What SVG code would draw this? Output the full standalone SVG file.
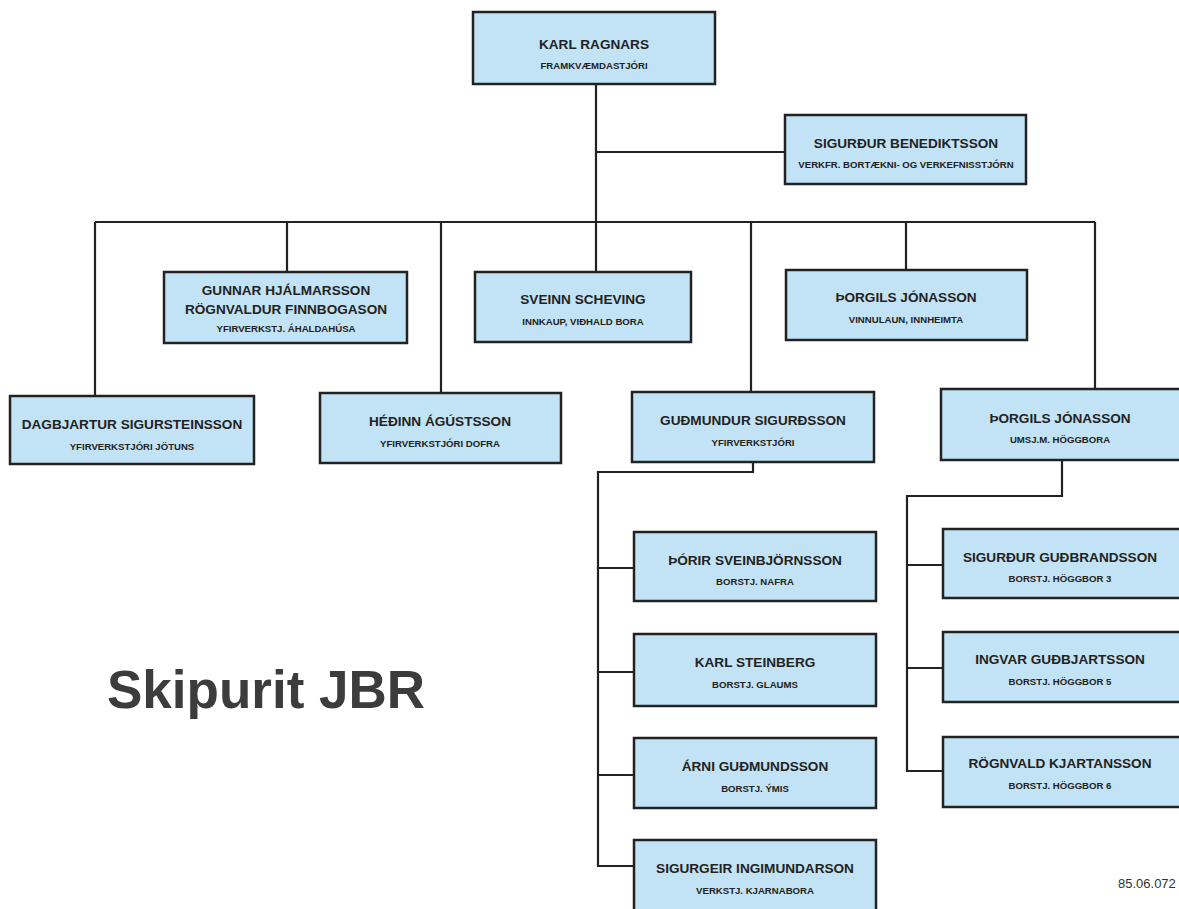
<svg xmlns="http://www.w3.org/2000/svg" width="1179" height="909" viewBox="0 0 1179 909">
<style>
.box{fill:#c2e3f5;stroke:#222;stroke-width:2.5}
.nm{font-family:"Liberation Sans",Arial,sans-serif;font-weight:bold;font-size:13.6px;fill:#222;text-anchor:middle}
.sb{font-family:"Liberation Sans",Arial,sans-serif;font-weight:bold;font-size:9.6px;fill:#222;text-anchor:middle}
.ln{fill:none;stroke:#222;stroke-width:2.2}
</style>
<rect width="1179" height="909" fill="#fff"/>
<g id="connectors">
<path class="ln" d="M596,84V222M596,152H785M95,222H1095M95,222V396M287,222V272M441,222V393M596,222V272M751,222V392M906,222V270M1095,222V389"/>
<path class="ln" d="M753,462V472H598V866H634M598,568H634M598,672H634M598,775H634"/>
<path class="ln" d="M1062,460V496H907V771H943M907,565H943M907,668H943"/>
</g>
<g id="n-karl-ragnars"><rect class="box" x="473" y="12" width="242" height="72"/><text class="nm" x="594" y="49">KARL RAGNARS</text><text class="sb" x="594" y="69">FRAMKVÆMDASTJÓRI</text></g>
<g id="n-sigurdur-benediktsson"><rect class="box" x="785" y="115" width="241" height="69"/><text class="nm" x="906" y="148">SIGURÐUR BENEDIKTSSON</text><text class="sb" x="906" y="168">VERKFR. BORTÆKNI- OG VERKEFNISSTJÓRN</text></g>
<g id="n-gunnar"><rect class="box" x="164" y="272" width="243" height="71"/><text class="nm" x="286" y="295">GUNNAR HJÁLMARSSON</text><text class="nm" x="286" y="314">RÖGNVALDUR FINNBOGASON</text><text class="sb" x="286" y="332">YFIRVERKSTJ. ÁHALDAHÚSA</text></g>
<g id="n-sveinn"><rect class="box" x="475" y="272" width="216" height="70"/><text class="nm" x="583" y="304">SVEINN SCHEVING</text><text class="sb" x="583" y="325">INNKAUP, VIÐHALD BORA</text></g>
<g id="n-thorgils-1"><rect class="box" x="786" y="270" width="241" height="70"/><text class="nm" x="906" y="302">ÞORGILS JÓNASSON</text><text class="sb" x="906" y="323">VINNULAUN, INNHEIMTA</text></g>
<g id="n-dagbjartur"><rect class="box" x="10" y="396" width="244" height="68"/><text class="nm" x="132" y="429">DAGBJARTUR SIGURSTEINSSON</text><text class="sb" x="132" y="450">YFIRVERKSTJÓRI JÖTUNS</text></g>
<g id="n-hedinn"><rect class="box" x="320" y="393" width="241" height="70"/><text class="nm" x="440" y="426">HÉÐINN ÁGÚSTSSON</text><text class="sb" x="440" y="447">YFIRVERKSTJÓRI DOFRA</text></g>
<g id="n-gudmundur"><rect class="box" x="632" y="392" width="242" height="70"/><text class="nm" x="753" y="425">GUÐMUNDUR SIGURÐSSON</text><text class="sb" x="753" y="446">YFIRVERKSTJÓRI</text></g>
<g id="n-thorgils-2"><rect class="box" x="941" y="389" width="245" height="71"/><text class="nm" x="1060" y="423">ÞORGILS JÓNASSON</text><text class="sb" x="1060" y="443">UMSJ.M. HÖGGBORA</text></g>
<g id="n-thorir"><rect class="box" x="634" y="532" width="242" height="69"/><text class="nm" x="755" y="565">ÞÓRIR SVEINBJÖRNSSON</text><text class="sb" x="755" y="585">BORSTJ. NAFRA</text></g>
<g id="n-karl-steinberg"><rect class="box" x="634" y="634" width="242" height="72"/><text class="nm" x="755" y="667">KARL STEINBERG</text><text class="sb" x="755" y="688">BORSTJ. GLAUMS</text></g>
<g id="n-arni"><rect class="box" x="634" y="738" width="242" height="70"/><text class="nm" x="755" y="771">ÁRNI GUÐMUNDSSON</text><text class="sb" x="755" y="792">BORSTJ. ÝMIS</text></g>
<g id="n-sigurgeir"><rect class="box" x="634" y="840" width="242" height="80"/><text class="nm" x="755" y="873">SIGURGEIR INGIMUNDARSON</text><text class="sb" x="755" y="894">VERKSTJ. KJARNABORA</text></g>
<g id="n-sigurdur-gudbrandsson"><rect class="box" x="943" y="529" width="245" height="69"/><text class="nm" x="1060" y="562">SIGURÐUR GUÐBRANDSSON</text><text class="sb" x="1060" y="582">BORSTJ. HÖGGBOR 3</text></g>
<g id="n-ingvar"><rect class="box" x="943" y="632" width="245" height="70"/><text class="nm" x="1060" y="664">INGVAR GUÐBJARTSSON</text><text class="sb" x="1060" y="685">BORSTJ. HÖGGBOR 5</text></g>
<g id="n-rognvald"><rect class="box" x="943" y="737" width="245" height="70"/><text class="nm" x="1060" y="768">RÖGNVALD KJARTANSSON</text><text class="sb" x="1060" y="789">BORSTJ. HÖGGBOR 6</text></g>
<text x="107" y="708" font-family="Liberation Sans,Arial,sans-serif" font-weight="bold" font-size="53" fill="#3c3c3c">Skipurit JBR</text>
<text x="1118" y="888" font-family="Liberation Sans,Arial,sans-serif" font-size="13" fill="#333">85.06.072</text>
</svg>
